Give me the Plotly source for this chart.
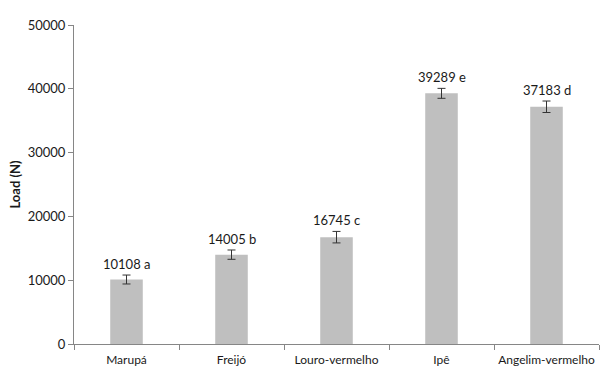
import plotly.graph_objects as go

categories = ["Marupá", "Freijó", "Louro-vermelho", "Ipê", "Angelim-vermelho"]
loads = [10108, 14005, 16745, 39289, 37183]
errors = [700, 730, 900, 780, 900]
letters = ["a", "b", "c", "e", "d"]

labels = [f"{v} {l}" for v, l in zip(loads, letters)]

FONT = "Lato, 'Open Sans', sans-serif"
AXIS_COLOR = "#868686"
TEXT = "#1a1a1a"

fig = go.Figure()
fig.add_trace(go.Bar(
    x=categories, y=loads,
    marker=dict(color="#BFBFBF", line=dict(width=0)),
    width=0.31,
    error_y=dict(type="data", array=errors, visible=True, color="#333333",
                 thickness=1, width=4),
    hoverinfo="skip",
))

for c, v, e, t in zip(categories, loads, errors, labels):
    fig.add_annotation(x=c, y=v + e, text=t, showarrow=False,
                       yanchor="bottom", yshift=1,
                       font=dict(family=FONT, size=13, color=TEXT))

fig.update_layout(
    width=608, height=385,
    margin=dict(l=74, r=9, t=25, b=41, autoexpand=False),
    plot_bgcolor="white", paper_bgcolor="white",
    showlegend=False,
    font=dict(family=FONT, size=12, color=TEXT),
)
fig.update_xaxes(
    type="category", showline=True, linecolor=AXIS_COLOR, linewidth=1,
    ticks="outside", tickson="boundaries", ticklen=5, tickcolor=AXIS_COLOR,
    showgrid=False, tickangle=0, automargin=False, ticklabelstandoff=5,
    tickfont=dict(family=FONT, size=12, color=TEXT),
)
fig.update_yaxes(
    range=[0, 50000], dtick=10000, tickformat="d", showline=True,
    linecolor=AXIS_COLOR, linewidth=1, ticks="outside", ticklen=5,
    tickcolor=AXIS_COLOR, showgrid=False, zeroline=False, automargin=False,
    tickfont=dict(family=FONT, size=13, color=TEXT),
    title=dict(text="<b>Load (N)</b>", font=dict(family=FONT, size=13, color=TEXT),
               standoff=4),
)

fig.write_html("out.html")
